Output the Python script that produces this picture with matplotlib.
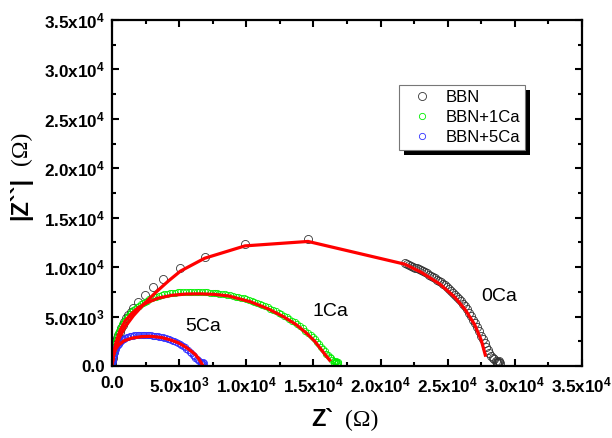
import matplotlib
matplotlib.use("Agg")
import matplotlib.pyplot as plt
from matplotlib.patches import Rectangle
from matplotlib.ticker import MultipleLocator, FuncFormatter
import numpy as np

plt.rcParams['font.family'] = ['Liberation Sans', 'DejaVu Sans']
plt.rcParams['mathtext.fontset'] = 'custom'
plt.rcParams['mathtext.rm'] = 'Liberation Sans:bold'
plt.rcParams['mathtext.it'] = 'Liberation Sans:bold'
plt.rcParams['mathtext.bf'] = 'Liberation Sans:bold'

# values in units of 1e3 ohm
bbn_x = [0.00, 0.01, 0.03, 0.06, 0.10, 0.14, 0.17, 0.22, 0.30, 0.38, 0.47, 0.57, 0.67, 0.79,
         0.92, 1.06, 1.22, 1.40, 1.59, 1.96, 2.46, 3.08, 3.80, 5.06, 6.90, 9.90, 14.60,
         21.8, 21.95, 22.1, 22.25, 22.4, 22.55, 22.7, 22.85, 23.0, 23.15, 23.3, 23.45, 23.6,
         23.75, 23.9, 24.05, 24.2, 24.35, 24.5, 24.65, 24.8, 24.95, 25.1, 25.25, 25.4, 25.55,
         25.7, 25.85, 26.0, 26.15, 26.3, 26.45, 26.6, 26.75, 26.9, 27.05, 27.2, 27.35, 27.5,
         27.62, 27.74, 27.86, 27.98, 28.1, 28.22, 28.34, 28.46, 28.56, 28.66, 28.76, 28.85,
         28.8, 28.7, 28.9]
bbn_y = [0.05, 0.25, 0.45, 0.80, 1.10, 1.45, 1.80, 2.15, 2.50, 2.80, 3.13, 3.45, 3.81, 4.15,
         4.48, 4.82, 5.16, 5.50, 5.85, 6.50, 7.18, 7.95, 8.80, 9.95, 11.05, 12.30, 12.80,
         10.4, 10.32, 10.23, 10.14, 10.05, 9.96, 9.87, 9.78, 9.68, 9.58, 9.47, 9.36, 9.25,
         9.13, 9.01, 8.88, 8.75, 8.61, 8.46, 8.31, 8.15, 7.98, 7.8, 7.62, 7.43, 7.23,
         7.02, 6.8, 6.56, 6.3, 6.02, 5.72, 5.4, 5.06, 4.7, 4.32, 3.92, 3.5, 3.06,
         2.7, 2.33, 1.96, 1.62, 1.32, 1.06, 0.84, 0.66, 0.52, 0.42, 0.36, 0.4,
         0.5, 0.3, 0.3]

ca1_x = [0.01, 0.02, 0.03, 0.05, 0.07, 0.1, 0.13, 0.16, 0.2, 0.24, 0.29, 0.34, 0.4, 0.46, 0.53,
         0.6, 0.68, 0.77, 0.87, 0.97, 1.08, 1.2, 1.32, 1.45, 1.58, 1.72, 1.86, 2.0, 2.15, 2.3,
         2.45, 2.6, 2.78, 2.95, 3.12, 3.3, 3.5, 3.7, 3.9, 4.1, 4.3, 4.5, 4.7, 4.9, 5.1, 5.3,
         5.5, 5.7, 5.9, 6.1, 6.3, 6.5, 6.7, 6.9, 7.1, 7.3, 7.5, 7.7, 7.85, 8.0, 8.2, 8.4, 8.6,
         8.8, 9.0, 9.2, 9.4, 9.6, 9.8, 10.0, 10.2, 10.4, 10.6, 10.8, 11.0, 11.2, 11.4, 11.6,
         11.8, 12.0, 12.2, 12.4, 12.6, 12.8, 13.0, 13.2, 13.4, 13.6, 13.8, 14.0, 14.2, 14.4,
         14.6, 14.8, 14.95, 15.1, 15.25, 15.4, 15.55, 15.7, 15.83, 15.95, 16.08, 16.2, 16.3,
         16.4, 16.5, 16.6, 16.68, 16.75, 16.85, 16.7, 16.55, 16.8]
ca1_y = [0.15, 0.3, 0.55, 0.8, 1.05, 1.3, 1.55, 1.8, 2.05, 2.3, 2.55, 2.8, 3.05, 3.3, 3.53,
         3.75, 3.98, 4.2, 4.43, 4.65, 4.85, 5.05, 5.25, 5.45, 5.63, 5.8, 5.95, 6.1, 6.24, 6.38,
         6.5, 6.62, 6.73, 6.84, 6.93, 7.02, 7.1, 7.18, 7.24, 7.3, 7.35, 7.39, 7.42, 7.45, 7.47,
         7.49, 7.5, 7.5, 7.5, 7.5, 7.49, 7.48, 7.47, 7.46, 7.45, 7.43, 7.41, 7.38, 7.36, 7.33,
         7.29, 7.25, 7.2, 7.15, 7.09, 7.03, 6.97, 6.9, 6.83, 6.75, 6.68, 6.6, 6.5, 6.4, 6.29,
         6.18, 6.06, 5.93, 5.8, 5.67, 5.54, 5.4, 5.25, 5.1, 4.94, 4.78, 4.6, 4.42, 4.22, 4.02,
         3.8, 3.58, 3.34, 3.1, 2.9, 2.7, 2.45, 2.2, 1.95, 1.7, 1.47, 1.25, 1.07, 0.9, 0.77,
         0.65, 0.55, 0.45, 0.4, 0.35, 0.45, 0.55, 0.3, 0.3]

ca5_x = [0.01, 0.02, 0.03, 0.04, 0.06, 0.08, 0.1, 0.13, 0.16, 0.19, 0.23, 0.27, 0.32, 0.37,
         0.43, 0.5, 0.57, 0.65, 0.73, 0.82, 0.91, 1.0, 1.1, 1.2, 1.31, 1.42, 1.54, 1.66, 1.78,
         1.9, 2.02, 2.15, 2.28, 2.4, 2.52, 2.65, 2.78, 2.9, 3.03, 3.15, 3.28, 3.4, 3.53, 3.65,
         3.78, 3.9, 4.03, 4.15, 4.28, 4.4, 4.53, 4.65, 4.78, 4.9, 5.03, 5.15, 5.28, 5.4, 5.53,
         5.65, 5.78, 5.9, 6.0, 6.1, 6.2, 6.3, 6.4, 6.5, 6.6, 6.7, 6.8, 6.75, 6.65, 6.85]
ca5_y = [0.1, 0.25, 0.4, 0.55, 0.7, 0.85, 1.0, 1.15, 1.3, 1.45, 1.6, 1.74, 1.88, 2.0,
         2.13, 2.26, 2.38, 2.5, 2.6, 2.7, 2.78, 2.86, 2.92, 2.97, 3.01, 3.04, 3.07, 3.09, 3.11,
         3.12, 3.13, 3.13, 3.13, 3.13, 3.12, 3.11, 3.1, 3.09, 3.07, 3.05, 3.03, 3.0, 2.97, 2.94,
         2.9, 2.86, 2.81, 2.76, 2.7, 2.64, 2.57, 2.5, 2.42, 2.33, 2.23, 2.13, 2.01, 1.89, 1.75,
         1.6, 1.44, 1.27, 1.12, 0.97, 0.83, 0.7, 0.57, 0.46, 0.37, 0.3, 0.25, 0.4, 0.2, 0.35]

fit0_x = [0, 0.1, 0.3, 0.6, 1.0, 1.6, 2.4, 3.3, 4.2, 5.1, 6.9, 9.9, 14.6, 21.8, 23.0, 24.4,
          25.5, 26.3, 27.0, 27.5, 27.8]
fit0_y = [0, 1.0, 2.0, 3.0, 4.0, 5.1, 6.3, 7.5, 8.6, 9.6, 10.9, 12.15, 12.6, 10.3, 9.5, 8.3,
          7.0, 5.7, 4.2, 2.6, 1.1]
fit1_x = [0, 0.1, 0.3, 0.6, 0.97, 1.5, 1.96, 2.6, 3.4, 4.44, 5.5, 6.55, 7.6, 8.7, 10.3, 11.6,
          12.75, 13.7, 14.5, 15.1, 15.5, 15.9, 16.2]
fit1_y = [0, 1.2, 2.4, 3.6, 4.55, 5.35, 5.9, 6.4, 6.85, 7.15, 7.28, 7.3, 7.25, 7.08, 6.5, 5.8,
          5.0, 4.2, 3.3, 2.5, 1.8, 1.1, 0.6]
fit5_x = [0, 0.1, 0.25, 0.47, 0.9, 1.47, 2.2, 2.95, 3.7, 4.4, 4.94, 5.5, 5.9, 6.18, 6.45, 6.72]
fit5_y = [0, 1.0, 1.65, 2.1, 2.55, 2.82, 2.97, 3.0, 2.88, 2.62, 2.35, 1.9, 1.5, 1.2, 0.75, 0.15]

labels = ['BBN', 'BBN+1Ca', 'BBN+5Ca']
colors = ['#333333', '#00ee00', '#3030ff']

fig = plt.figure(figsize=(6.12, 4.38), dpi=100)
ax = fig.add_axes([112/612, 1-366/438, 470/612, 346/438])

k = 1000.0
ax.plot(np.array(bbn_x)*k, np.array(bbn_y)*k, 'o', mfc='none', mec=colors[0], ms=5.8, mew=0.6,
        label=labels[0])
ax.plot(np.array(ca1_x)*k, np.array(ca1_y)*k, 'o', mfc='none', mec=colors[1], ms=4.5, mew=0.6,
        label=labels[1])
ax.plot(np.array(ca5_x)*k, np.array(ca5_y)*k, 'o', mfc='none', mec=colors[2], ms=4.5, mew=0.6,
        label=labels[2])
for fx, fy in [(fit0_x, fit0_y), (fit1_x, fit1_y), (fit5_x, fit5_y)]:
    ax.plot(np.array(fx)*k, np.array(fy)*k, '-', color='red', lw=2.3)

ax.text(28.8e3, 7.0e3, '0Ca', fontsize=14, ha='center', va='center')
ax.text(16.3e3, 5.5e3, '1Ca', fontsize=14, ha='center', va='center')
ax.text(6.8e3, 3.95e3, '5Ca', fontsize=14, ha='center', va='center')

ax.set_xlim(0, 35000)
ax.set_ylim(0, 35000)


def sci(v, pos):
    if v <= 0:
        return '0.0'
    e = int(np.floor(np.log10(v) + 1e-9))
    m = v / 10**e
    return '%.1fx10$^{%d}$' % (m, e)


for axis in (ax.xaxis, ax.yaxis):
    axis.set_major_locator(MultipleLocator(5000))
    axis.set_minor_locator(MultipleLocator(2500))
    axis.set_major_formatter(FuncFormatter(sci))
ax.tick_params(which='both', direction='in', top=True, right=True, width=1.5)
ax.tick_params(which='major', length=5)
ax.tick_params(which='minor', length=3)
ax.tick_params(axis='x', pad=7)
ax.tick_params(axis='y', pad=5)
for lab in ax.get_xticklabels() + ax.get_yticklabels():
    lab.set_fontweight('bold')
    lab.set_fontsize(12.3)
for sp in ax.spines.values():
    sp.set_linewidth(1.6)

# axis titles: bold symbol + regular serif unit
fig.text(333/612, 1-420/438, 'Z`', fontsize=17, fontweight='bold', ha='right', va='center')
fig.text(345/612, 1-420/438, '(Ω)', fontsize=17, family='Liberation Serif', ha='left', va='center')
fig.text(21/612, 1-198/438, '|Z``|', fontsize=17, fontweight='bold', rotation=90, ha='center', va='center')
fig.text(21/612, 1-148/438, '(Ω)', fontsize=17, family='Liberation Serif', rotation=90, ha='center', va='center')

leg = ax.legend(loc='upper left', bbox_to_anchor=(399/612, 1-85/438), bbox_transform=fig.transFigure,
                fontsize=12, frameon=True, fancybox=False, edgecolor='#777777', framealpha=1,
                borderpad=0.3, handletextpad=0.3, labelspacing=0.3, borderaxespad=0, handlelength=2.2)
leg.get_frame().set_linewidth(0.8)
fig.canvas.draw()
bb = leg.get_window_extent()
shadow = Rectangle((bb.x0 + 5, bb.y0 - 5), bb.width, bb.height, transform=None,
                   facecolor='black', edgecolor='none', zorder=4.5)
ax.add_artist(shadow)
leg.set_zorder(5)

fig.savefig('out.png', dpi=100)
